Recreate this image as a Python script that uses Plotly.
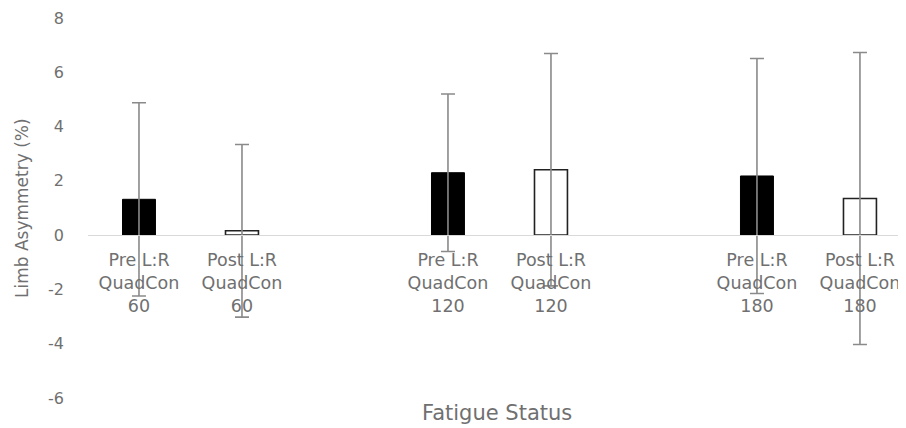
import plotly.graph_objects as go

# ---- data ----
speeds = ["60", "120", "180"]
pre_labels = ["Pre L:R<br>QuadCon<br>60", "Pre L:R<br>QuadCon<br>120", "Pre L:R<br>QuadCon<br>180"]
post_labels = ["Post L:R<br>QuadCon<br>60", "Post L:R<br>QuadCon<br>120", "Post L:R<br>QuadCon<br>180"]
pre_mean = [1.32, 2.30, 2.18]
pre_sd = [3.56, 2.90, 4.33]
post_mean = [0.16, 2.41, 1.35]
post_sd = [3.18, 4.28, 5.38]
y_ticks = [-6, -4, -2, 0, 2, 4, 6, 8]
y_tick_text = ["-6", "-4", "-2", "0", "2", "4", "6", "8"]

# slot positions: each speed group uses two slots followed by an empty slot
pre_x = [i * 3 for i in range(len(speeds))]
post_x = [i * 3 + 1 for i in range(len(speeds))]

FONT = "DejaVu Sans"
TXT = "#707070"
ERR = "#8a8a8a"

# the page body adds an 8px margin; the plot area is placed to match the window
W, H = 906, 420
L, R, T, B = 80, 8, 10, 30
plot_w = W - L - R
plot_h = H - T - B

fig = go.Figure()
fig.add_trace(go.Bar(
    x=pre_x, y=pre_mean, width=0.32,
    marker=dict(color="black", line=dict(color="black", width=1)),
    error_y=dict(type="data", array=pre_sd, visible=True, color=ERR, thickness=1.6, width=7),
    showlegend=False, hoverinfo="y",
))
fig.add_trace(go.Bar(
    x=post_x, y=post_mean, width=0.32,
    marker=dict(color="white", line=dict(color="#222222", width=1.6)),
    error_y=dict(type="data", array=post_sd, visible=True, color=ERR, thickness=1.6, width=7),
    showlegend=False, hoverinfo="y",
))

tickvals = []
ticktext = []
for a, b, la, lb in zip(pre_x, post_x, pre_labels, post_labels):
    tickvals += [a, b]
    ticktext += [la, lb]

y_min, y_max = -6, 8
fig.update_layout(
    width=W, height=H,
    margin=dict(l=L, r=R, t=T, b=B),
    paper_bgcolor="white", plot_bgcolor="white",
    barmode="overlay",
    font=dict(family=FONT, color=TXT, size=18),
    xaxis=dict(
        range=[-0.495, 7.447],
        tickmode="array", tickvals=tickvals, ticktext=ticktext,
        anchor="free", position=(0 - y_min) / (y_max - y_min),
        showline=True, linecolor="#d9d9d9", linewidth=1,
        showgrid=False, zeroline=False, ticks="",
        tickfont=dict(family=FONT, size=17.5, color=TXT),
        ticklabelstandoff=9,
        ticklabeloverflow="allow",
        automargin=False,
    ),
    yaxis=dict(
        range=[y_min, y_max],
        tickmode="array", tickvals=y_ticks, ticktext=y_tick_text,
        showgrid=False, zeroline=False, showline=False, ticks="",
        tickfont=dict(family=FONT, size=16, color=TXT),
        ticklabelstandoff=23,
        automargin=False,
    ),
    annotations=[
        dict(text="Limb Asymmetry (%)", textangle=-90, xref="paper", yref="paper",
             x=(14 - L) / plot_w, y=0.5, xanchor="center", yanchor="middle", showarrow=False,
             font=dict(family=FONT, size=17, color=TXT)),
        dict(text="Fatigue Status", xref="paper", yref="paper",
             x=0.5, y=-(405 - (H - B)) / plot_h, xanchor="center", yanchor="middle", showarrow=False,
             font=dict(family=FONT, size=21, color=TXT)),
    ],
)

fig.write_html("out.html")
